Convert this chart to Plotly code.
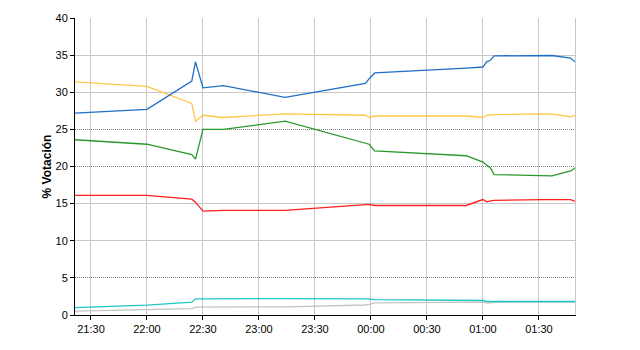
import plotly.graph_objects as go

times = ["2015-05-24 21:21:26", "2015-05-24 22:00", "2015-05-24 22:24", "2015-05-24 22:26",
         "2015-05-24 22:30", "2015-05-24 22:41", "2015-05-24 23:14", "2015-05-24 23:57",
         "2015-05-24 23:59", "2015-05-25 00:02", "2015-05-25 00:51", "2015-05-25 01:00",
         "2015-05-25 01:02", "2015-05-25 01:04", "2015-05-25 01:06", "2015-05-25 01:32",
         "2015-05-25 01:37", "2015-05-25 01:47", "2015-05-25 01:49:20"]

blue = [27.2, 27.7, 31.5, 34.1, 30.6, 30.9, 29.3, 31.2, 31.8, 32.6, 33.25, 33.4, 34.1, 34.3, 34.9, 35.0, 34.95, 34.6, 34.1]
yellow = [31.4, 30.8, 28.5, 26.1, 26.9, 26.6, 27.1, 26.9, 26.6, 26.8, 26.8, 26.6, 26.9, 26.95, 27.0, 27.1, 27.05, 26.7, 26.9]
green = [23.6, 23.0, 21.6, 21.0, 25.0, 25.0, 26.1, 23.2, 23.0, 22.1, 21.45, 20.6, 20.25, 19.8, 18.9, 18.8, 18.75, 19.4, 19.8]
red = [16.1, 16.1, 15.6, 15.2, 14.0, 14.1, 14.1, 14.85, 14.9, 14.75, 14.75, 15.55, 15.25, 15.36, 15.45, 15.55, 15.55, 15.55, 15.3]
cyan = [0.98, 1.33, 1.72, 2.18, 2.18, 2.2, 2.2, 2.18, 2.18, 2.06, 2.0, 1.95, 1.82, 1.82, 1.82, 1.82, 1.82, 1.82, 1.82]
gray = [0.53, 0.76, 0.85, 1.07, 1.08, 1.08, 1.1, 1.35, 1.42, 1.64, 1.72, 1.73, 1.6, 1.7, 1.72, 1.73, 1.73, 1.73, 1.73]

series = [
    (gray, "#c4c4c4"),
    (cyan, "#1fc6c6"),
    (red, "#ff1f1f"),
    (green, "#2a982a"),
    (yellow, "#ffc846"),
    (blue, "#1f6fc6"),
]

x_ticks = ["2015-05-24 21:30", "2015-05-24 22:00", "2015-05-24 22:30", "2015-05-24 23:00",
           "2015-05-24 23:30", "2015-05-25 00:00", "2015-05-25 00:30", "2015-05-25 01:00",
           "2015-05-25 01:30"]
x_labels = ["21:30", "22:00", "22:30", "23:00", "23:30", "00:00", "00:30", "01:00", "01:30"]
y_ticks = [0, 5, 10, 15, 20, 25, 30, 35, 40]
dotted_grid = [5, 20, 25, 40]
solid_grid = [10, 15, 30, 35]

fig = go.Figure()
for vals, col in series:
    fig.add_trace(go.Scatter(x=times, y=vals, mode="lines",
                             line=dict(color=col, width=1.3), hoverinfo="skip"))

font = dict(family="Liberation Sans, Arial, sans-serif", size=11, color="black")
fig.update_layout(
    width=640, height=350,
    margin=dict(l=75, r=65, t=15, b=35),
    paper_bgcolor="white", plot_bgcolor="white",
    showlegend=False, font=font,
    xaxis=dict(type="date", range=["2015-05-24 21:21:26", "2015-05-25 01:49:20"],
               tickvals=x_ticks, ticktext=x_labels,
               showgrid=True, gridcolor="#c8c8c8", gridwidth=1,
               showline=True, linecolor="black", linewidth=1,
               ticks="outside", ticklen=4, tickcolor="black", zeroline=False),
    yaxis=dict(range=[0, 40], tickvals=y_ticks, showgrid=False,
               showline=True, linecolor="black", linewidth=1,
               ticks="outside", ticklen=4, tickcolor="black", zeroline=False,
               title=dict(text="<b>% Votación</b>", font=dict(size=12), standoff=1)),
    yaxis2=dict(range=[0, 40], overlaying="y", tickvals=dotted_grid, showticklabels=False,
                showgrid=True, gridcolor="#808080", griddash="1px,1px", gridwidth=1,
                zeroline=False, showline=False, ticks=""),
    yaxis3=dict(range=[0, 40], overlaying="y", side="right", tickvals=solid_grid,
                showticklabels=False, showgrid=True, gridcolor="#c8c8c8", gridwidth=1,
                zeroline=False, showline=True, linecolor="#c8c8c8", ticks=""),
)
# invisible traces to activate the overlay grid axes
fig.add_trace(go.Scatter(x=[times[0]], y=[None], yaxis="y2", showlegend=False, hoverinfo="skip"))
fig.add_trace(go.Scatter(x=[times[0]], y=[None], yaxis="y3", showlegend=False, hoverinfo="skip"))

fig.write_html("out.html")
